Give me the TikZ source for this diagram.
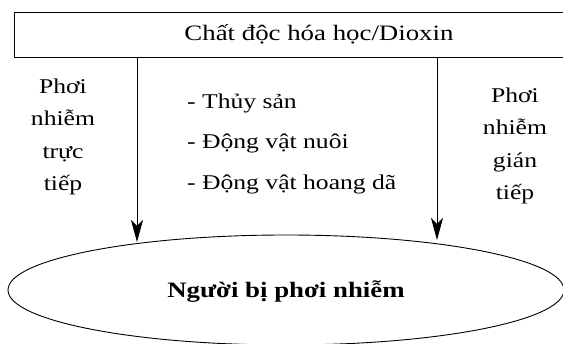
\documentclass[tikz,border=0pt]{standalone}
\usepackage{fontspec}
\setmainfont{Liberation Serif}[FakeStretch=1.22]
\usetikzlibrary{arrows.meta,shapes.geometric}
\begin{document}
\begin{tikzpicture}[x=1pt,y=-1pt,
  frame/.style={draw, line width=0.9pt},
  coltext/.style={align=center, inner sep=0pt, font=\fontsize{21}{32.5}\selectfont},
  listtext/.style={align=left, inner sep=0pt, font=\fontsize{21}{40.5}\selectfont},
  arr/.style={line width=0.9pt, -{Stealth[length=22pt,width=12pt,inset=6pt]}}]
  \useasboundingbox (0,0) rectangle (563,344);
  \clip (0,0) rectangle (563,344);

  % source box
  \node[frame, rectangle, minimum width=610pt, minimum height=45pt, inner sep=0pt,
        text height=16pt, text depth=4.5pt, font=\fontsize{22}{26}\selectfont]
    (src) at (319,34.5) {Chất độc hóa học/Dioxin};

  % exposed people
  \node[frame, ellipse, minimum width=556pt, minimum height=110pt, inner sep=0pt,
        text height=18pt, text depth=2pt, font=\fontsize{22}{26}\selectfont\bfseries]
    (ppl) at (286,290) {Người bị phơi nhiễm};

  % side labels
  \node[coltext] (direct) at (63,137) {Phơi\\nhiễm\\trực\\tiếp};
  \node[coltext] (indirect) at (515,146) {Phơi\\nhiễm\\gián\\tiếp};
  \node[listtext, anchor=west] (via) at (187,143.5)
    {- Thủy sản\\- Động vật nuôi\\- Động vật hoang dã};

  % exposure paths
  \coordinate (t1) at (137,242);
  \coordinate (t2) at (437,240);
  \draw[arr] (src.south -| t1) -- (t1);
  \draw[arr] (src.south -| t2) -- (t2);
\end{tikzpicture}
\end{document}
